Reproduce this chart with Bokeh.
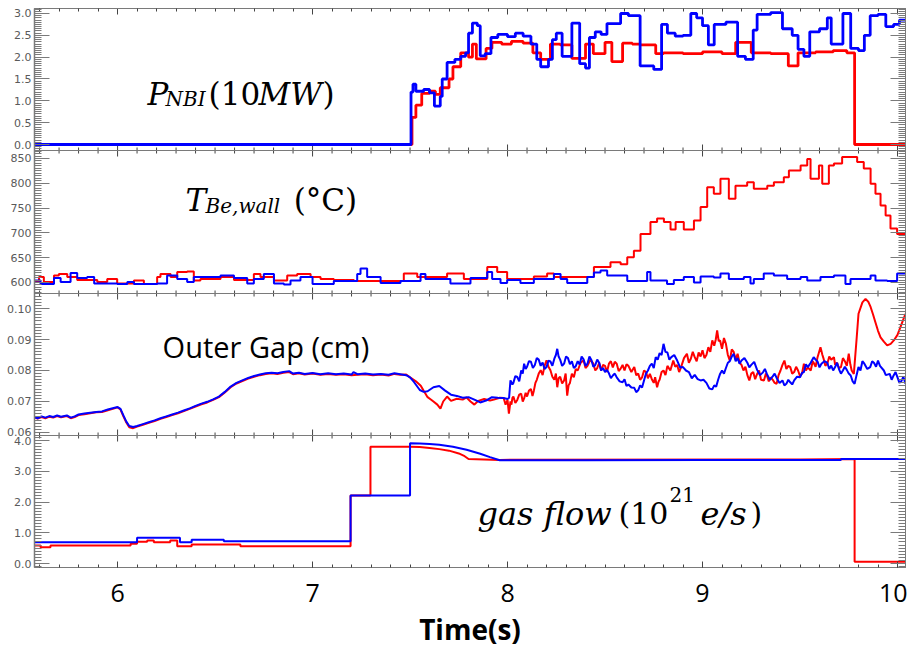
from bokeh.plotting import figure
from bokeh.models import (Range1d, LinearAxis, FixedTicker, CustomJSTickFormatter,
                          Label, Span)
from bokeh.embed import file_html
from bokeh.resources import INLINE

# ---------------- data ----------------
# Neutral beam power (10 MW), step traces
nbi_time_red = [5.574, 7.51, 7.53, 7.56, 7.60, 7.63, 7.655, 7.70, 7.72, 7.76, 7.80, 7.82, 7.84,
                7.89, 7.92, 7.97, 8.02, 8.08, 8.13, 8.17, 8.22, 8.27, 8.33, 8.40, 8.44, 8.50,
                8.535, 8.59, 8.64, 8.68, 8.76, 8.80, 8.90, 9.00, 9.10, 9.17, 9.25, 9.35, 9.44,
                9.49, 9.58, 9.67, 9.74, 9.78, 10.041]
nbi_red = [0.0, 0.62, 0.90, 1.17, 1.22, 1.15, 1.30, 1.50, 1.78, 2.10, 2.00, 2.30, 1.96,
           2.20, 2.34, 2.30, 2.36, 2.32, 2.10, 1.95, 2.30, 2.28, 1.97, 2.30, 2.08, 2.34,
           1.90, 2.32, 2.30, 2.28, 2.08, 2.10, 2.08, 2.12, 2.08, 2.34, 2.10, 2.08, 1.80,
           2.10, 2.12, 2.15, 2.10, 0.0, 0.0]
nbi_time_blue = [5.574, 7.505, 7.515, 7.53, 7.57, 7.60, 7.625, 7.655, 7.665, 7.69, 7.73, 7.76,
                 7.785, 7.80, 7.82, 7.845, 7.86, 7.885, 7.915, 7.95, 8.00, 8.04, 8.08, 8.12,
                 8.15, 8.17, 8.21, 8.23, 8.25, 8.28, 8.33, 8.37, 8.40, 8.42, 8.45, 8.48, 8.51,
                 8.58, 8.62, 8.68, 8.75, 8.79, 8.82, 8.86, 8.90, 8.94, 8.97, 9.00, 9.03, 9.06,
                 9.12, 9.18, 9.22, 9.26, 9.28, 9.35, 9.41, 9.46, 9.49, 9.52, 9.55, 9.60, 9.64,
                 9.66, 9.72, 9.76, 9.80, 9.83, 9.86, 9.90, 9.94, 9.98, 10.01, 10.041]
nbi_blue = [0.0, 1.20, 1.38, 1.22, 1.26, 1.18, 0.88, 1.10, 1.50, 1.88, 1.95, 2.02,
            2.10, 2.55, 2.78, 2.72, 2.03, 2.08, 2.45, 2.52, 2.47, 2.55, 2.48, 2.30,
            1.95, 1.78, 1.95, 2.40, 2.55, 2.02, 2.78, 1.85, 1.75, 2.45, 2.58, 2.52, 2.77,
            3.00, 2.95, 1.80, 1.72, 2.75, 2.55, 2.48, 2.50, 3.00, 2.90, 2.72, 2.28, 2.75,
            2.80, 2.02, 1.95, 2.62, 2.98, 3.02, 2.65, 2.50, 2.18, 2.02, 2.58, 2.65, 2.90,
            2.30, 3.00, 2.20, 2.15, 2.50, 2.95, 2.98, 2.70, 2.75, 2.85, 2.85]

# Beryllium wall temperature (deg C), step traces
wall_time_red = [5.574, 5.597, 5.622, 5.674, 5.699, 5.742, 5.793, 5.896, 5.947, 5.998, 6.084,
                 6.135, 6.203, 6.22, 6.272, 6.306, 6.357, 6.391, 6.425, 6.528, 6.597, 6.699,
                 6.733, 6.802, 6.87, 6.921, 6.99, 7.041, 7.109, 7.212, 7.468, 7.537, 7.69,
                 7.776, 7.896, 7.947, 7.998, 8.135, 8.203, 8.238, 8.443, 8.477, 8.528, 8.58,
                 8.614, 8.648, 8.682, 8.733, 8.767, 8.802, 8.836, 8.862, 8.904, 8.956, 8.99,
                 9.024, 9.058, 9.092, 9.135, 9.169, 9.229, 9.263, 9.332, 9.366, 9.417, 9.443,
                 9.503, 9.537, 9.554, 9.597, 9.614, 9.648, 9.674, 9.716, 9.793, 9.827, 9.862,
                 9.887, 9.913, 9.939, 9.964, 9.998, 10.041]
wall_red = [601, 611, 601, 614, 617, 611, 605, 601, 607, 598, 604,
            597, 611, 617, 611, 621, 622, 604, 607, 611, 605, 617,
            611, 604, 614, 617, 611, 607, 605, 603, 618, 611, 618,
            607, 631, 621, 607, 612, 618, 611, 631, 631, 641, 637,
            651, 664, 698, 722, 729, 722, 707, 722, 707, 725, 752,
            792, 779, 809, 769, 795, 802, 789, 795, 802, 812, 826,
            836, 849, 809, 836, 799, 836, 840, 853, 843, 830, 799,
            779, 755, 735, 709, 698, 698]
wall_time_blue = [5.574, 5.605, 5.674, 5.708, 5.759, 5.793, 5.844, 5.880, 5.998, 6.05, 6.084,
                  6.203, 6.254, 6.306, 6.357, 6.391, 6.46, 6.528, 6.597, 6.665, 6.699, 6.75,
                  6.802, 6.853, 6.887, 6.938, 7.0, 7.109, 7.229, 7.246, 7.28, 7.349, 7.451,
                  7.554, 7.579, 7.707, 7.81, 7.896, 7.921, 7.964, 7.998, 8.066, 8.135, 8.238,
                  8.272, 8.306, 8.409, 8.443, 8.477, 8.511, 8.614, 8.716, 8.733, 8.818, 8.853,
                  8.904, 8.956, 8.99, 9.058, 9.092, 9.135, 9.212, 9.246, 9.263, 9.314, 9.366,
                  9.434, 9.503, 9.537, 9.605, 9.674, 9.733, 9.759, 9.862, 9.887, 9.947, 9.998,
                  10.041]
wall_blue = [604, 597, 609, 601, 619, 609, 611, 598, 597, 601, 597,
             598, 614, 607, 601, 611, 611, 614, 609, 598, 607, 617,
             598, 596, 604, 611, 597, 603, 617, 628, 611, 599, 603,
             617, 607, 598, 609, 621, 607, 599, 605, 599, 607, 617,
             607, 599, 611, 620, 624, 614, 603, 621, 604, 597, 605,
             611, 600, 612, 610, 618, 607, 611, 598, 607, 618, 614,
             607, 611, 604, 611, 614, 597, 607, 614, 604, 603, 618,
             618]

# Outer gap (cm): (time, gap) pairs
gap_red_pts = [
    (5.574, 0.0648), (5.59, 0.0645), (5.61, 0.0650), (5.63, 0.0646), (5.65, 0.0651),
    (5.67, 0.0648), (5.69, 0.0653), (5.71, 0.0649), (5.74, 0.0653), (5.76, 0.0646),
    (5.78, 0.0650), (5.80, 0.0656), (5.83, 0.0659), (5.86, 0.0662), (5.89, 0.0665),
    (5.92, 0.0666), (5.95, 0.0672), (5.98, 0.0677), (6.00, 0.0681), (6.015, 0.0674),
    (6.03, 0.0652), (6.045, 0.0632), (6.06, 0.0617), (6.08, 0.0614), (6.10, 0.0619),
    (6.13, 0.0625), (6.16, 0.0631), (6.19, 0.0637), (6.22, 0.0644), (6.25, 0.0650),
    (6.28, 0.0656), (6.31, 0.0662), (6.34, 0.0669), (6.37, 0.0676), (6.40, 0.0684),
    (6.43, 0.0691), (6.46, 0.0697), (6.49, 0.0705), (6.52, 0.0714), (6.55, 0.0729),
    (6.58, 0.0746), (6.61, 0.0758), (6.64, 0.0766), (6.67, 0.0774), (6.70, 0.0780),
    (6.73, 0.0785), (6.76, 0.0789), (6.79, 0.0791), (6.82, 0.0789), (6.85, 0.0793),
    (6.88, 0.0795), (6.90, 0.0788), (6.93, 0.0791), (6.96, 0.0787), (7.00, 0.0790),
    (7.04, 0.0786), (7.08, 0.0789), (7.12, 0.0786), (7.16, 0.0788), (7.20, 0.0785),
    (7.23, 0.0786), (7.27, 0.0788), (7.31, 0.0785), (7.35, 0.0787), (7.39, 0.0784),
    (7.42, 0.0789), (7.45, 0.0786), (7.48, 0.0787), (7.50, 0.0778), (7.53, 0.0765),
    (7.555, 0.0751), (7.57, 0.0735), (7.59, 0.0714), (7.61, 0.0705), (7.62, 0.0700),
    (7.64, 0.0690), (7.656, 0.0677), (7.67, 0.0700), (7.69, 0.0716), (7.71, 0.0702),
    (7.74, 0.0709), (7.77, 0.0706), (7.79, 0.0713), (7.81, 0.0700), (7.83, 0.0690),
    (7.85, 0.0702), (7.88, 0.0708), (7.91, 0.0703), (7.93, 0.0706), (7.96, 0.0712),
    (7.98, 0.0711), (7.99, 0.0690), (8.0, 0.0705), (8.007, 0.0661), (8.015, 0.0700),
    (8.02, 0.0690), (8.025, 0.0712), (8.03, 0.0716), (8.04, 0.0695), (8.05, 0.0705),
    (8.06, 0.0722), (8.07, 0.0725), (8.078, 0.0700), (8.085, 0.0710), (8.093, 0.0728),
    (8.10, 0.0716), (8.11, 0.0735), (8.12, 0.0740), (8.128, 0.0718), (8.135, 0.0735),
    (8.143, 0.0760), (8.15, 0.0770), (8.16, 0.0790), (8.17, 0.0801), (8.18, 0.0785),
    (8.19, 0.0815), (8.20, 0.0833), (8.21, 0.0812), (8.22, 0.0801), (8.23, 0.0780),
    (8.24, 0.0770), (8.248, 0.0790), (8.255, 0.0746), (8.262, 0.0775), (8.27, 0.0780),
    (8.28, 0.0758), (8.29, 0.0768), (8.298, 0.0790), (8.306, 0.0719), (8.313, 0.0752),
    (8.32, 0.0760), (8.33, 0.0790), (8.34, 0.0778), (8.35, 0.0805), (8.36, 0.0800),
    (8.375, 0.0825), (8.39, 0.0833), (8.40, 0.0808), (8.41, 0.0815), (8.425, 0.0835),
    (8.44, 0.0822), (8.45, 0.0800), (8.46, 0.0808), (8.47, 0.0825), (8.48, 0.0800),
    (8.49, 0.0818), (8.50, 0.0815), (8.51, 0.0795), (8.52, 0.0822), (8.53, 0.0830),
    (8.54, 0.0810), (8.55, 0.0828), (8.56, 0.0822), (8.57, 0.0798), (8.58, 0.0806),
    (8.59, 0.0818), (8.60, 0.0800), (8.61, 0.0820), (8.62, 0.0815), (8.635, 0.0795),
    (8.65, 0.0811), (8.66, 0.0785), (8.67, 0.0790), (8.68, 0.0770), (8.69, 0.0778),
    (8.70, 0.0800), (8.71, 0.0795), (8.72, 0.0775), (8.73, 0.0789), (8.74, 0.0772),
    (8.75, 0.0760), (8.757, 0.0778), (8.767, 0.0746), (8.775, 0.0765), (8.78, 0.0770),
    (8.79, 0.0795), (8.80, 0.0800), (8.81, 0.0785), (8.82, 0.0815), (8.835, 0.0800),
    (8.85, 0.0832), (8.86, 0.0812), (8.87, 0.0818), (8.88, 0.0795), (8.89, 0.0811),
    (8.905, 0.0840), (8.92, 0.0854), (8.93, 0.0825), (8.94, 0.0838), (8.95, 0.0860),
    (8.96, 0.0843), (8.97, 0.0830), (8.98, 0.0858), (8.99, 0.0845), (9.00, 0.0865),
    (9.01, 0.0840), (9.02, 0.0850), (9.03, 0.0875), (9.04, 0.0860), (9.05, 0.0897),
    (9.06, 0.0880), (9.068, 0.0900), (9.075, 0.0929), (9.083, 0.0895), (9.09, 0.0897),
    (9.10, 0.0870), (9.11, 0.0905), (9.12, 0.0886), (9.13, 0.0850), (9.14, 0.0832),
    (9.15, 0.0868), (9.16, 0.0860), (9.17, 0.0835), (9.18, 0.0854), (9.19, 0.0825),
    (9.20, 0.0818), (9.21, 0.0800), (9.22, 0.0812), (9.23, 0.0785), (9.24, 0.0768),
    (9.25, 0.0790), (9.26, 0.0795), (9.27, 0.0772), (9.28, 0.0789), (9.29, 0.0800),
    (9.30, 0.0770), (9.315, 0.0768), (9.325, 0.0790), (9.33, 0.0785), (9.34, 0.0765),
    (9.35, 0.0778), (9.36, 0.0770), (9.37, 0.0760), (9.38, 0.0757), (9.39, 0.0785),
    (9.40, 0.0800), (9.41, 0.0818), (9.42, 0.0832), (9.43, 0.0805), (9.44, 0.0815),
    (9.45, 0.0811), (9.46, 0.0790), (9.47, 0.0795), (9.48, 0.0812), (9.49, 0.0800),
    (9.50, 0.0782), (9.51, 0.0790), (9.52, 0.0822), (9.53, 0.0800), (9.54, 0.0810),
    (9.555, 0.0800), (9.565, 0.0830), (9.57, 0.0825), (9.58, 0.0812), (9.59, 0.0843),
    (9.605, 0.0875), (9.615, 0.0850), (9.62, 0.0840), (9.63, 0.0815), (9.64, 0.0822),
    (9.65, 0.0845), (9.66, 0.0835), (9.674, 0.0843), (9.68, 0.0818), (9.69, 0.0825),
    (9.70, 0.0808), (9.71, 0.0811), (9.72, 0.0840), (9.73, 0.0830), (9.74, 0.0815),
    (9.75, 0.0854), (9.758, 0.0820), (9.765, 0.0800), (9.776, 0.0789), (9.79, 0.0900),
    (9.80, 0.0983), (9.82, 0.1020), (9.836, 0.1031), (9.85, 0.1022), (9.862, 0.1005),
    (9.875, 0.0980), (9.887, 0.0955), (9.90, 0.0928), (9.913, 0.0907), (9.93, 0.0893),
    (9.947, 0.0881), (9.965, 0.0886), (9.981, 0.0897), (10.00, 0.0915), (10.015, 0.0940),
    (10.03, 0.0965), (10.041, 0.0983),
]
gap_blue_pts = [
    (5.574, 0.0650), (5.59, 0.0646), (5.61, 0.0652), (5.63, 0.0648), (5.65, 0.0653),
    (5.67, 0.0650), (5.69, 0.0655), (5.71, 0.0651), (5.74, 0.0655), (5.76, 0.0648),
    (5.78, 0.0652), (5.80, 0.0658), (5.83, 0.0661), (5.86, 0.0664), (5.89, 0.0666),
    (5.92, 0.0668), (5.95, 0.0674), (5.98, 0.0679), (6.00, 0.0682), (6.015, 0.0676),
    (6.03, 0.0655), (6.045, 0.0635), (6.06, 0.0621), (6.08, 0.0618), (6.10, 0.0621),
    (6.13, 0.0627), (6.16, 0.0633), (6.19, 0.0639), (6.22, 0.0646), (6.25, 0.0652),
    (6.28, 0.0658), (6.31, 0.0664), (6.34, 0.0671), (6.37, 0.0678), (6.40, 0.0686),
    (6.43, 0.0693), (6.46, 0.0699), (6.49, 0.0707), (6.52, 0.0716), (6.55, 0.0731),
    (6.58, 0.0748), (6.61, 0.0760), (6.64, 0.0768), (6.67, 0.0776), (6.70, 0.0782),
    (6.73, 0.0787), (6.76, 0.0791), (6.79, 0.0793), (6.82, 0.0791), (6.85, 0.0795),
    (6.88, 0.0798), (6.90, 0.0790), (6.93, 0.0793), (6.96, 0.0789), (7.00, 0.0792),
    (7.04, 0.0788), (7.08, 0.0791), (7.12, 0.0788), (7.16, 0.0790), (7.20, 0.0787),
    (7.21, 0.0795), (7.23, 0.0788), (7.27, 0.0790), (7.31, 0.0787), (7.35, 0.0789),
    (7.39, 0.0786), (7.42, 0.0791), (7.45, 0.0788), (7.48, 0.0785), (7.50, 0.0778),
    (7.52, 0.0763), (7.55, 0.0737), (7.57, 0.0731), (7.59, 0.0733), (7.62, 0.0746),
    (7.65, 0.0750), (7.68, 0.0735), (7.71, 0.0722), (7.74, 0.0718), (7.77, 0.0712),
    (7.80, 0.0714), (7.83, 0.0706), (7.86, 0.0697), (7.89, 0.0703), (7.92, 0.0714),
    (7.95, 0.0712), (7.98, 0.0711), (8.00, 0.0708), (8.008, 0.0712), (8.015, 0.0768),
    (8.025, 0.0755), (8.03, 0.0760), (8.04, 0.0782), (8.05, 0.0779), (8.06, 0.0765),
    (8.07, 0.0800), (8.078, 0.0790), (8.085, 0.0822), (8.093, 0.0805), (8.10, 0.0812),
    (8.11, 0.0830), (8.12, 0.0828), (8.13, 0.0808), (8.14, 0.0818), (8.15, 0.0840),
    (8.16, 0.0835), (8.17, 0.0815), (8.18, 0.0826), (8.19, 0.0805), (8.20, 0.0811),
    (8.21, 0.0832), (8.22, 0.0829), (8.23, 0.0815), (8.24, 0.0838), (8.248, 0.0850),
    (8.255, 0.0870), (8.262, 0.0845), (8.27, 0.0835), (8.28, 0.0815), (8.29, 0.0822),
    (8.30, 0.0845), (8.31, 0.0840), (8.32, 0.0820), (8.33, 0.0830), (8.34, 0.0808),
    (8.35, 0.0814), (8.36, 0.0830), (8.37, 0.0819), (8.38, 0.0845), (8.39, 0.0836),
    (8.40, 0.0815), (8.41, 0.0822), (8.42, 0.0845), (8.43, 0.0834), (8.44, 0.0812),
    (8.45, 0.0818), (8.46, 0.0835), (8.47, 0.0825), (8.48, 0.0800), (8.49, 0.0808),
    (8.50, 0.0795), (8.51, 0.0802), (8.52, 0.0791), (8.53, 0.0775), (8.54, 0.0784),
    (8.55, 0.0790), (8.56, 0.0778), (8.575, 0.0765), (8.59, 0.0762), (8.60, 0.0772),
    (8.61, 0.0750), (8.62, 0.0755), (8.635, 0.0745), (8.65, 0.0744), (8.66, 0.0730),
    (8.67, 0.0736), (8.68, 0.0752), (8.69, 0.0745), (8.70, 0.0768), (8.71, 0.0790),
    (8.72, 0.0800), (8.73, 0.0815), (8.74, 0.0822), (8.75, 0.0808), (8.76, 0.0843),
    (8.77, 0.0835), (8.78, 0.0856), (8.79, 0.0850), (8.80, 0.0886), (8.81, 0.0860),
    (8.82, 0.0858), (8.83, 0.0835), (8.84, 0.0843), (8.855, 0.0850), (8.87, 0.0832),
    (8.885, 0.0810), (8.90, 0.0811), (8.915, 0.0800), (8.93, 0.0795), (8.945, 0.0775),
    (8.96, 0.0786), (8.975, 0.0772), (8.99, 0.0768), (9.005, 0.0770), (9.02, 0.0760),
    (9.035, 0.0742), (9.05, 0.0739), (9.06, 0.0752), (9.07, 0.0748), (9.08, 0.0770),
    (9.09, 0.0789), (9.10, 0.0800), (9.11, 0.0790), (9.12, 0.0808), (9.13, 0.0825),
    (9.14, 0.0830), (9.15, 0.0845), (9.16, 0.0854), (9.17, 0.0830), (9.18, 0.0840),
    (9.19, 0.0822), (9.20, 0.0832), (9.215, 0.0840), (9.23, 0.0825), (9.24, 0.0810),
    (9.25, 0.0818), (9.265, 0.0828), (9.28, 0.0802), (9.295, 0.0785), (9.31, 0.0794),
    (9.32, 0.0805), (9.33, 0.0789), (9.345, 0.0770), (9.36, 0.0781), (9.37, 0.0790),
    (9.38, 0.0776), (9.395, 0.0760), (9.41, 0.0768), (9.42, 0.0752), (9.43, 0.0757),
    (9.44, 0.0770), (9.45, 0.0762), (9.46, 0.0755), (9.47, 0.0768), (9.485, 0.0780),
    (9.50, 0.0778), (9.51, 0.0792), (9.52, 0.0795), (9.53, 0.0820), (9.54, 0.0811),
    (9.555, 0.0825), (9.57, 0.0843), (9.58, 0.0835), (9.59, 0.0829), (9.60, 0.0810),
    (9.61, 0.0822), (9.625, 0.0830), (9.64, 0.0825), (9.65, 0.0805), (9.66, 0.0816),
    (9.67, 0.0800), (9.68, 0.0811), (9.69, 0.0825), (9.70, 0.0804), (9.71, 0.0790),
    (9.72, 0.0800), (9.73, 0.0812), (9.74, 0.0802), (9.75, 0.0790), (9.76, 0.0784),
    (9.77, 0.0765), (9.78, 0.0757), (9.79, 0.0785), (9.80, 0.0811), (9.81, 0.0800),
    (9.82, 0.0830), (9.83, 0.0822), (9.845, 0.0805), (9.86, 0.0811), (9.87, 0.0830),
    (9.88, 0.0824), (9.89, 0.0812), (9.90, 0.0832), (9.91, 0.0815), (9.93, 0.0800),
    (9.94, 0.0785), (9.96, 0.0789), (9.97, 0.0770), (9.98, 0.0784), (9.99, 0.0795),
    (10.00, 0.0778), (10.01, 0.0760), (10.02, 0.0766), (10.03, 0.0780), (10.041, 0.0757),
]

# Gas flow (1e21 e/s)
gas_time_red = [5.574, 5.605, 5.605, 5.656, 5.656, 6.067, 6.067, 6.10, 6.10, 6.152, 6.152,
                6.186, 6.186, 6.27, 6.27, 6.306, 6.306, 6.38, 6.38, 6.63, 6.63, 7.195, 7.195,
                7.297, 7.297, 7.50, 7.55, 7.60, 7.65, 7.70, 7.75, 7.78, 7.80, 7.96, 9.50, 9.78,
                9.78, 10.041]
gas_red = [0.585, 0.585, 0.53, 0.53, 0.585, 0.585, 0.64, 0.64, 0.71, 0.71, 0.75,
           0.75, 0.69, 0.69, 0.75, 0.75, 0.565, 0.565, 0.62, 0.62, 0.565, 0.565, 2.21,
           2.21, 3.80, 3.80, 3.79, 3.76, 3.72, 3.67, 3.58, 3.49, 3.40, 3.37, 3.38, 3.40,
           0.06, 0.06]
gas_time_blue = [5.574, 6.10, 6.10, 6.32, 6.32, 6.38, 6.38, 6.545, 6.545, 7.195, 7.195, 7.50,
                 7.50, 7.55, 7.60, 7.65, 7.72, 7.79, 7.86, 7.91, 7.96, 8.40, 9.00, 9.71, 9.71,
                 10.041]
gas_blue = [0.69, 0.69, 0.84, 0.84, 0.69, 0.69, 0.77, 0.77, 0.72, 0.72, 2.21, 2.21,
            3.91, 3.90, 3.89, 3.86, 3.80, 3.70, 3.57, 3.46, 3.36, 3.36, 3.37, 3.37, 3.40,
            3.40]

# left-axis tick labels of each panel
nbi_ticks = [0.0, 0.5, 1.0, 1.5, 2.0, 2.5, 3.0]
wall_ticks = [600, 650, 700, 750, 800, 850]
gap_ticks = [0.06, 0.07, 0.08, 0.09, 0.10]
gas_ticks = [0.0, 1.0, 2.0, 3.0, 4.0]
time_ticks = [6, 7, 8, 9, 10]

# ---------------- layout of the stacked panels ----------------
RED = "#ff0000"
BLUE = "#0000ff"
GREY = "#7a7a7a"
TOP, BOTTOM = 8, 567             # frame rows in canvas pixels
# panel -> (first row, last row, value at first row, value at last row)
BANDS = {
    "nbi": (8, 150, 3.114, -0.137),
    "wall": (150, 293, 866.1, 577.8),
    "gap": (293, 435, 0.10484, 0.05903),
    "gas": (435, 567, 4.163, -0.130),
}
MINOR_STEP = {"nbi": 0.05, "wall": 5.0, "gap": 0.001, "gas": 0.1}
LABEL_FMT = {"nbi": "{:.1f}", "wall": "{:.0f}", "gap": "{:.2f}", "gas": "{:.1f}"}
MAJOR = {"nbi": nbi_ticks, "wall": wall_ticks, "gap": gap_ticks, "gas": gas_ticks}


def value_at_row(name, row):
    r0, r1, v0, v1 = BANDS[name]
    return v0 + (row - r0) * (v1 - v0) / (r1 - r0)


def row_of(name, v):
    r0, r1, v0, v1 = BANDS[name]
    return r0 + (v - v0) * (r1 - r0) / (v1 - v0)


p = figure(width=907, height=657, output_backend="svg", toolbar_location=None,
           x_range=Range1d(5.574, 10.041), y_range=Range1d(-BOTTOM, -TOP),
           x_axis_location=None, y_axis_location=None,
           min_border_left=34, min_border_right=2, min_border_top=TOP,
           min_border_bottom=657 - BOTTOM)
p.xgrid.visible = False
p.ygrid.visible = False
p.outline_line_color = GREY
p.background_fill_color = "white"
p.border_fill_color = "white"
p.extra_y_ranges = {n: Range1d(value_at_row(n, BOTTOM), value_at_row(n, TOP)) for n in BANDS}

# tick rows on the shared vertical scale (canvas row, negated)
major_pos, major_txt, minor_pos = [], [], []
for n in BANDS:
    r0, r1, v0, v1 = BANDS[n]
    for v in MAJOR[n]:
        major_pos.append(-row_of(n, v))
        major_txt.append(LABEL_FMT[n].format(v))
    step = MINOR_STEP[n]
    k = int(min(v0, v1) / step) - 1
    while k * step <= max(v0, v1):
        r = row_of(n, k * step)
        if r0 + 0.5 < r < r1 - 0.5:
            minor_pos.append(-r)
        k += 1

left = LinearAxis(ticker=FixedTicker(ticks=major_pos, minor_ticks=minor_pos),
                  formatter=CustomJSTickFormatter(args=dict(pos=major_pos, txt=major_txt), code="""
    let best = 0, d = Infinity;
    for (let i = 0; i < pos.length; i++) {
        const e = Math.abs(pos[i] - tick);
        if (e < d) { d = e; best = i; }
    }
    return txt[best];
"""))
left.major_tick_in = 15
left.major_tick_out = 0
left.minor_tick_in = 7
left.minor_tick_out = 0
left.axis_line_color = GREY
left.axis_line_width = 1.5
left.major_tick_line_color = GREY
left.minor_tick_line_color = GREY
left.major_label_text_font = "DejaVu Sans"
left.major_label_text_font_size = "11px"
left.major_label_text_color = "#5a5a5a"
left.major_label_standoff = 3
p.add_layout(left, "left")


def bare_axis(side, positions, length, color):
    ax = LinearAxis(ticker=FixedTicker(ticks=[], minor_ticks=positions))
    ax.minor_tick_in = length
    ax.minor_tick_out = 0
    ax.major_tick_in = 0
    ax.major_tick_out = 0
    ax.major_label_standoff = 0
    ax.axis_line_color = GREY
    ax.minor_tick_line_color = color
    p.add_layout(ax, side)


bare_axis("right", major_pos, 15, GREY)
bare_axis("right", minor_pos, 7, GREY)

time_minor = [round(5.6 + 0.1 * i, 1) for i in range(45)]
bare_axis("above", time_ticks, 6, "#444444")
bare_axis("above", [t for t in time_minor if t not in time_ticks], 3, "#444444")

bottom = LinearAxis(ticker=FixedTicker(ticks=time_ticks, minor_ticks=time_minor))
bottom.major_tick_in = 6
bottom.major_tick_out = 0
bottom.minor_tick_in = 3
bottom.minor_tick_out = 0
bottom.axis_line_color = GREY
bottom.major_tick_line_color = "#444444"
bottom.minor_tick_line_color = "#444444"
bottom.major_label_text_font = "Open Sans"
bottom.major_label_text_font_size = "25px"
bottom.major_label_text_color = "black"
bottom.major_label_standoff = 16
bottom.axis_label = "Time(s)"
bottom.axis_label_text_font = "Open Sans"
bottom.axis_label_text_font_style = "bold"
bottom.axis_label_text_font_size = "28px"
bottom.axis_label_text_color = "black"
bottom.axis_label_standoff = 5
p.add_layout(bottom, "below")

# separators between panels, with time ticks on both sides
sx0, sy0, sy1 = [], [], []
for n in ("wall", "gap", "gas"):
    row = BANDS[n][0]
    p.add_layout(Span(location=-row, dimension="width", line_color=GREY, line_width=1))
    for t in time_minor:
        half = 6 if t in time_ticks else 3
        sx0.append(t)
        sy0.append(-row - half)
        sy1.append(-row + half)
p.segment(x0=sx0, y0=sy0, x1=sx0, y1=sy1, line_color="#444444", line_width=1)

# ---------------- traces ----------------
p.step(nbi_time_red, nbi_red, mode="after", line_color=RED, line_width=2.8, y_range_name="nbi")
p.step(nbi_time_blue, nbi_blue, mode="after", line_color=BLUE, line_width=2.8, y_range_name="nbi")
p.step(wall_time_red, wall_red, mode="after", line_color=RED, line_width=2, y_range_name="wall")
p.step(wall_time_blue, wall_blue, mode="after", line_color=BLUE, line_width=2, y_range_name="wall")
p.line([t for t, _ in gap_red_pts], [g for _, g in gap_red_pts],
       line_color=RED, line_width=2, y_range_name="gap")
p.line([t for t, _ in gap_blue_pts], [g for _, g in gap_blue_pts],
       line_color=BLUE, line_width=2, y_range_name="gap")
p.line(gas_time_red, gas_red, line_color=RED, line_width=2, y_range_name="gas")
p.line(gas_time_blue, gas_blue, line_color=BLUE, line_width=2, y_range_name="gas")


# ---------------- panel titles ----------------
def label(panel, x, y, text, size, font="DejaVu Serif", style="italic"):
    p.add_layout(Label(x=x, y=y, y_range_name=panel, text=text, text_font=font,
                       text_font_style=style, text_font_size=size, text_color="black",
                       text_baseline="alphabetic", text_align="left"))


label("nbi", 6.154, 1.15, "P", "31px")
label("nbi", 6.246, 1.05, "NBI", "20px")
label("nbi", 6.467, 1.15, "(10", "31px", style="normal")
label("nbi", 6.723, 1.15, "MW", "31px")
label("nbi", 7.051, 1.15, ")", "31px", style="normal")

label("wall", 6.349, 767, "T", "31px")
label("wall", 6.451, 755, "Be,wall", "20px")
label("wall", 6.903, 767, "(°C)", "31px", style="normal")

label("gap", 6.231, 0.0877, "Outer Gap (cm)", "29px", font="Open Sans", style="normal")

label("gas", 7.846, 1.62, "gas flow", "32px")
label("gas", 8.569, 1.62, "(10", "30px", style="normal")
label("gas", 8.831, 2.25, "21", "20px", style="normal")
label("gas", 8.990, 1.62, "e/s", "32px")
label("gas", 9.246, 1.62, ")", "30px", style="normal")

open("out.html", "w").write(file_html(p, INLINE))
